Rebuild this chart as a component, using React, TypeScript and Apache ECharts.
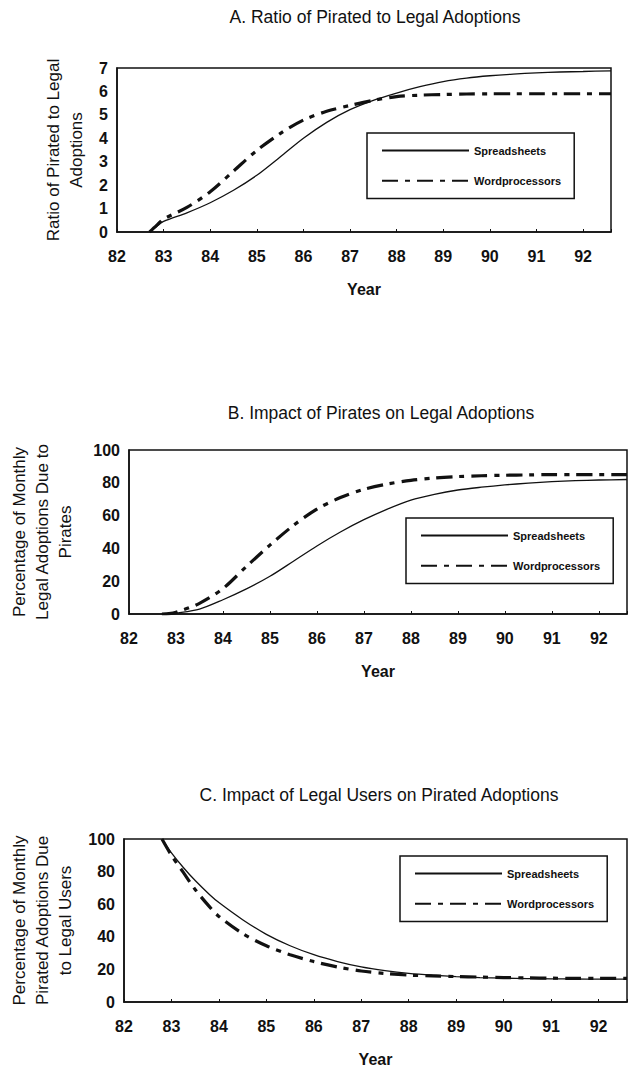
import React, { useEffect, useRef } from "react";
import * as echarts from "echarts";

// ---------- data ----------
const yearsAB = [82.7, 82.85, 83, 83.5, 84, 84.5, 85, 85.5, 86, 86.5, 87, 87.5, 88, 88.5, 89, 89.5, 90, 90.5, 91, 91.5, 92, 92.6];
const ratioSpreadsheets = [0, 0.24, 0.45, 0.82, 1.25, 1.78, 2.42, 3.2, 4.0, 4.68, 5.22, 5.62, 5.93, 6.2, 6.42, 6.57, 6.67, 6.74, 6.79, 6.83, 6.85, 6.88];
const ratioWordprocessors = [0, 0.28, 0.55, 1.05, 1.72, 2.6, 3.48, 4.2, 4.78, 5.15, 5.4, 5.62, 5.78, 5.84, 5.87, 5.89, 5.9, 5.9, 5.9, 5.9, 5.9, 5.9];
const piratesSpreadsheets = [0, 0.1, 0.5, 3, 8.7, 15.3, 23, 32.2, 41.5, 50, 57.5, 64, 69.5, 73, 75.6, 77.3, 78.7, 79.8, 80.7, 81.3, 81.7, 82];
const piratesWordprocessors = [0, 0.2, 1, 6.5, 15.5, 29, 42, 54, 64, 71, 76, 79.3, 81.5, 82.9, 83.8, 84.3, 84.6, 84.8, 85, 85, 85, 85];

const yearsC = [82.8, 83, 83.25, 83.5, 83.8, 84, 84.5, 85, 85.5, 86, 86.5, 87, 87.5, 88, 88.5, 89, 89.5, 90, 90.5, 91, 91.5, 92, 92.6];
const legalSpreadsheets = [100, 91.5, 82.5, 74.5, 66, 61, 50.5, 41.5, 34.5, 29, 24.8, 21.5, 19.2, 17.5, 16.4, 15.6, 15, 14.6, 14.4, 14.2, 14.1, 14, 14];
const legalWordprocessors = [100, 90, 79.5, 69, 58.5, 52.5, 42, 34.5, 29, 24.8, 21.5, 19, 17.5, 16.5, 16, 15.6, 15.3, 15, 14.8, 14.6, 14.5, 14.5, 14.5];

const seriesNames = ["Spreadsheets", "Wordprocessors"];
const titles = [
  "A. Ratio of Pirated to Legal Adoptions",
  "B. Impact of Pirates on Legal Adoptions",
  "C. Impact of Legal Users on Pirated Adoptions",
];
const yNames = [
  "Ratio of Pirated to Legal\nAdoptions",
  "Percentage of Monthly\nLegal Adoptions Due to\nPirates",
  "Percentage of Monthly\nPirated Adoptions Due\nto Legal Users",
];
const xName = "Year";
const xMin = 82;
const xMax = 92.6;
const yMaxes = [7, 100, 100];
const yIntervals = [1, 20, 20];

const FONT = "'Liberation Sans', Arial, Helvetica, sans-serif";
const INK = "#111";

const pairs = (xs: number[], ys: number[]) => xs.map((x, i) => [x, ys[i]]);

export default function App() {
  const ref = useRef<HTMLDivElement>(null);

  useEffect(() => {
    if (!ref.current) return;
    const chart = echarts.init(ref.current, undefined, { renderer: "svg" });

    const grids = [
      { left: 117, top: 68, width: 494, height: 164 },
      { left: 122, top: 450, width: 510, height: 164 },
      { left: 124, top: 839, width: 510, height: 164 },
    ];
    const titlePos = [
      { left: 375, top: 8 },
      { left: 381, top: 404 },
      { left: 379, top: 786 },
    ];
    const legendPos = [
      { left: 367, top: 133 },
      { left: 406, top: 518 },
      { left: 400, top: 856 },
    ];
    const yNameGaps = [20, 52, 47];

    const solid = { color: INK, width: 1.3, type: "solid" as const };
    const dashed = { color: INK, width: 3.2, type: [16, 7, 5, 7], cap: "butt" as const };

    const dataSets = [
      [pairs(yearsAB, ratioSpreadsheets), pairs(yearsAB, ratioWordprocessors)],
      [pairs(yearsAB, piratesSpreadsheets), pairs(yearsAB, piratesWordprocessors)],
      [pairs(yearsC, legalSpreadsheets), pairs(yearsC, legalWordprocessors)],
    ];

    const series: any[] = [];
    dataSets.forEach((pair, gi) => {
      pair.forEach((d, si) => {
        series.push({
          type: "line",
          name: seriesNames[si],
          xAxisIndex: gi,
          yAxisIndex: gi,
          data: d,
          symbol: "none",
          smooth: 0.3,
          lineStyle: si === 0 ? solid : dashed,
          itemStyle: { color: INK },
          z: si === 0 ? 3 : 2,
        });
      });
    });

    chart.setOption({
      animation: false,
      backgroundColor: "#fff",
      title: titles.map((t, i) => ({
        text: t,
        left: titlePos[i].left,
        top: titlePos[i].top,
        textAlign: "center",
        padding: 0,
        textStyle: { fontFamily: FONT, fontSize: 17.5, fontWeight: "normal", color: INK },
      })),
      legend: legendPos.map((p) => ({
        data: seriesNames,
        orient: "vertical",
        left: p.left,
        top: p.top,
        itemWidth: 87,
        itemHeight: 14,
        itemGap: 19,
        padding: [12, 13, 12, 14],
        borderColor: INK,
        borderWidth: 1.5,
        backgroundColor: "#fff",
        selectedMode: false,
        itemStyle: { opacity: 0, color: "transparent", borderWidth: 0 },
        textStyle: { fontFamily: FONT, fontSize: 11, fontWeight: "bold", color: INK },
      })),
      grid: grids.map((g) => ({
        ...g,
        show: true,
        borderColor: INK,
        borderWidth: 1.5,
        backgroundColor: "transparent",
        containLabel: false,
      })),
      xAxis: grids.map((_, i) => ({
        type: "value",
        gridIndex: i,
        min: xMin,
        max: xMax,
        interval: 1,
        name: xName,
        nameLocation: "middle",
        nameGap: 49,
        nameTextStyle: { fontFamily: FONT, fontSize: 16, fontWeight: "bold", color: INK },
        axisLine: { show: true, lineStyle: { color: INK, width: 1.5 } },
        axisTick: { show: true, inside: true, length: 3, lineStyle: { color: INK, width: 1 } },
        splitLine: { show: false },
        axisLabel: {
          margin: 16,
          fontFamily: FONT,
          fontSize: 16,
          fontWeight: "bold",
          color: INK,
          formatter: (v: number) => (Number.isInteger(v) ? String(v) : ""),
        },
      })),
      yAxis: grids.map((_, i) => ({
        type: "value",
        gridIndex: i,
        min: 0,
        max: yMaxes[i],
        interval: yIntervals[i],
        name: yNames[i],
        nameLocation: "middle",
        nameRotate: 90,
        nameGap: yNameGaps[i],
        nameTextStyle: { fontFamily: FONT, fontSize: 17, color: INK, lineHeight: 23, align: "center" },
        axisLine: { show: true, lineStyle: { color: INK, width: 1.5 } },
        axisTick: { show: false },
        splitLine: { show: false },
        axisLabel: { margin: 9, fontFamily: FONT, fontSize: 16, fontWeight: "bold", color: INK },
      })),
      series,
    });

    return () => chart.dispose();
  }, []);

  return (
    <div
      ref={ref}
      style={{ position: "absolute", left: 0, top: 0, width: 630, height: 1068, background: "#fff" }}
    />
  );
}
